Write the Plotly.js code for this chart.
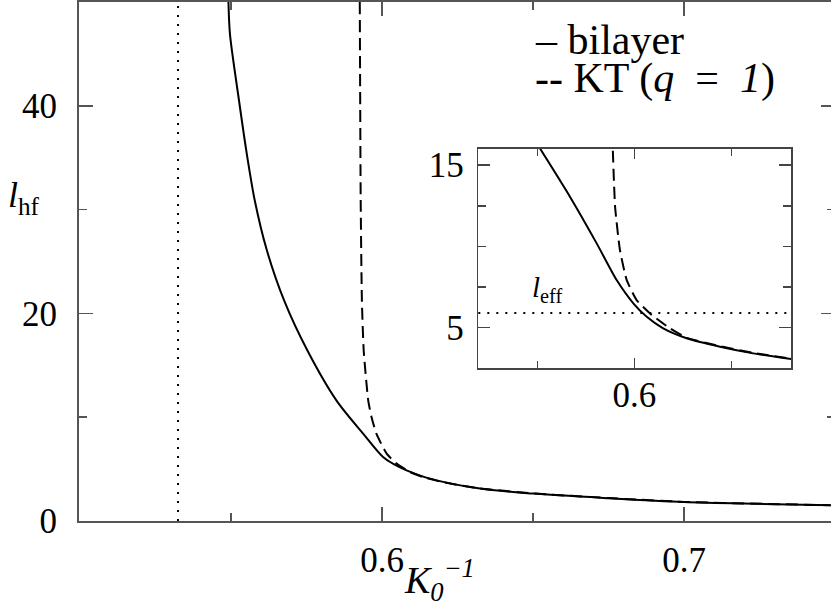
<!DOCTYPE html>
<html>
<head>
<meta charset="utf-8">
<script src="https://cdn.plot.ly/plotly-3.0.1.min.js"></script>
<style>
  html, body { margin: 0; padding: 0; overflow: hidden; background: #fff; }
  #chart { width: 836px; height: 607px; }
  #chart text { font-family: "Liberation Serif", "DejaVu Serif", serif !important; }
</style>
</head>
<body>
<div id="chart"></div>
<script>
// Healing length l_hf versus inverse stiffness K0^-1
const bilayerK = [0.5491, 0.5496, 0.5526, 0.5550, 0.5578, 0.5618, 0.5676, 0.5753, 0.5849, 0.5937, 0.6003, 0.6040, 0.6081, 0.6158, 0.6324, 0.6500, 0.6750, 0.7000, 0.7250, 0.7486];
const bilayerL = [50.0, 46.9, 40.5, 35.7, 30.9, 26.1, 21.2, 16.4, 11.6, 8.42, 6.16, 5.45, 4.88, 4.08, 3.12, 2.64, 2.20, 1.83, 1.65, 1.51];

const ktK = [0.5926, 0.5929, 0.5933, 0.5939, 0.5954, 0.5965, 0.5981, 0.6015, 0.6048, 0.6092, 0.6135, 0.6200, 0.6324, 0.6500, 0.6750, 0.7000, 0.7250, 0.7486];
const ktL = [50.0, 30.9, 21.2, 16.4, 11.6, 10.0, 8.42, 6.49, 5.53, 4.72, 4.24, 3.75, 3.14, 2.66, 2.21, 1.84, 1.66, 1.52];

// Inset: close-up near the transition
const insetBilayerK = [0.5514, 0.5669, 0.5806, 0.5909, 0.5995, 0.6064, 0.6149, 0.6270, 0.6442, 0.6613, 0.6808];
const insetBilayerL = [16.03, 13.05, 10.19, 7.93, 6.50, 5.67, 4.96, 4.35, 3.83, 3.42, 3.07];
const insetKtK = [0.5887, 0.5889, 0.5901, 0.5926, 0.5961, 0.6012, 0.6081, 0.6184, 0.6270, 0.6442, 0.6613, 0.6808];
const insetKtL = [17.0, 16.03, 12.44, 9.78, 7.93, 6.70, 5.88, 4.96, 4.38, 3.86, 3.45, 3.09];

const kCritical = 0.5324;   // vertical dotted marker
const lEff = 5.9;           // effective length in the inset

const mainXTicks = [0.6, 0.7], mainXMinor = [0.55, 0.65];
const mainYTicks = [0, 20, 40], mainYMinor = [10, 30];
const insetXTicks = [0.6], insetXMinor = [0.55, 0.65];
const insetYTicks = [5, 15], insetYMinor = [2.5, 7.5, 10, 12.5];

const SERIF = 'Liberation Serif';
const FONT = '"Liberation Serif", "DejaVu Serif", serif';
const AX = '#555555';
const INSET_AX = '#444444';

const traces = [
  { x: bilayerK, y: bilayerL, xaxis: 'x', yaxis: 'y', mode: 'lines',
    line: { color: '#000', width: 2, shape: 'spline', smoothing: 0.8 }, hoverinfo: 'skip' },
  { x: ktK, y: ktL, xaxis: 'x', yaxis: 'y', mode: 'lines',
    line: { color: '#000', width: 2, dash: '12px,6px', shape: 'spline', smoothing: 0.5 }, hoverinfo: 'skip' },
  { x: insetBilayerK, y: insetBilayerL, xaxis: 'x2', yaxis: 'y2', mode: 'lines',
    line: { color: '#000', width: 2, shape: 'spline', smoothing: 0.6 }, hoverinfo: 'skip' },
  { x: insetKtK, y: insetKtL, xaxis: 'x2', yaxis: 'y2', mode: 'lines',
    line: { color: '#000', width: 2, dash: '12px,6px', shape: 'spline', smoothing: 0.5 }, hoverinfo: 'skip' }
];

function axisStyle(color, width, tickvals, minorvals, len, minorLen) {
  return {
    tickmode: 'array', tickvals: tickvals, ticktext: tickvals.map(String),
    ticks: 'inside', ticklen: len, tickwidth: 1.5, tickcolor: color,
    showline: true, linecolor: color, linewidth: width, mirror: 'allticks',
    showgrid: false, zeroline: false,
    tickfont: { family: SERIF, size: 35, color: '#000' },
    minor: { tickmode: 'array', tickvals: minorvals, ticks: 'inside', ticklen: minorLen,
             tickwidth: 1.5, tickcolor: color, showgrid: false }
  };
}

const layout = {
  width: 836, height: 607,
  margin: { l: 79, r: 1, t: 2, b: 86, pad: 0 },
  paper_bgcolor: '#fff', plot_bgcolor: '#fff',
  showlegend: false,
  font: { family: FONT, color: '#000' },
  xaxis: Object.assign(axisStyle(AX, 2, mainXTicks, mainXMinor, 14, 8),
    { range: [0.4996, 0.75], domain: [0, 1], anchor: 'y', ticklabelstandoff: 7 }),
  yaxis: Object.assign(axisStyle(AX, 2, mainYTicks, mainYMinor, 14, 8),
    { range: [0, 50], domain: [0, 1], anchor: 'x', ticklabelstandoff: 13 }),
  xaxis2: Object.assign(axisStyle(INSET_AX, 1.5, insetXTicks, insetXMinor, 10, 7),
    { range: [0.51959, 0.68077], domain: [0.5282, 0.9418], anchor: 'y2', ticklabelstandoff: -5 }),
  yaxis2: Object.assign(axisStyle(INSET_AX, 1.5, insetYTicks, insetYMinor, 12, 8),
    { range: [2.5, 16], domain: [0.2942, 0.7168], anchor: 'x2', ticklabelstandoff: 6 }),
  shapes: [
    { type: 'line', xref: 'x', yref: 'y domain', x0: kCritical, x1: kCritical, y0: 0, y1: 1,
      line: { color: '#000', width: 2, dash: '2px,7px' } },
    { type: 'line', xref: 'x2 domain', yref: 'y2', x0: 0, x1: 1, y0: lEff, y1: lEff,
      line: { color: '#000', width: 2, dash: '2px,7px' } }
  ],
  annotations: [
    { text: '<i>l</i><sub>hf</sub>', xref: 'paper', yref: 'paper', x: -0.0966, y: 0.624,
      xanchor: 'left', yanchor: 'middle', showarrow: false, font: { family: FONT, size: 36, color: '#000' } },
    { text: '<i>K</i><sub><i>0</i></sub><sup><i>−1</i></sup>', xref: 'paper', yref: 'paper', x: 0.4775, y: -0.1137,
      xanchor: 'center', yanchor: 'middle', showarrow: false, font: { family: FONT, size: 38, color: '#000' } },
    { text: '– bilayer', xref: 'paper', yref: 'paper', x: 0.6005, y: 0.9268,
      xanchor: 'left', yanchor: 'middle', showarrow: false, font: { family: FONT, size: 42, color: '#000' } },
    { text: '-- KT (<i>q</i>\u2002=\u2002<i>1</i>)', xref: 'paper', yref: 'paper', x: 0.6005, y: 0.8517,
      xanchor: 'left', yanchor: 'middle', showarrow: false, font: { family: FONT, size: 42, color: '#000' } },
    { text: '<i>l</i><sub>eff</sub>', xref: 'paper', yref: 'paper', x: 0.5966, y: 0.447,
      xanchor: 'left', yanchor: 'middle', showarrow: false, font: { family: FONT, size: 29, color: '#000' } }
  ]
};

Plotly.newPlot('chart', traces, layout, { staticPlot: true, displayModeBar: false }).then(function (gd) {
  gd.querySelectorAll('text').forEach(function (t) {
    t.style.setProperty('font-family', FONT, 'important');
  });
});
</script>
</body>
</html>
